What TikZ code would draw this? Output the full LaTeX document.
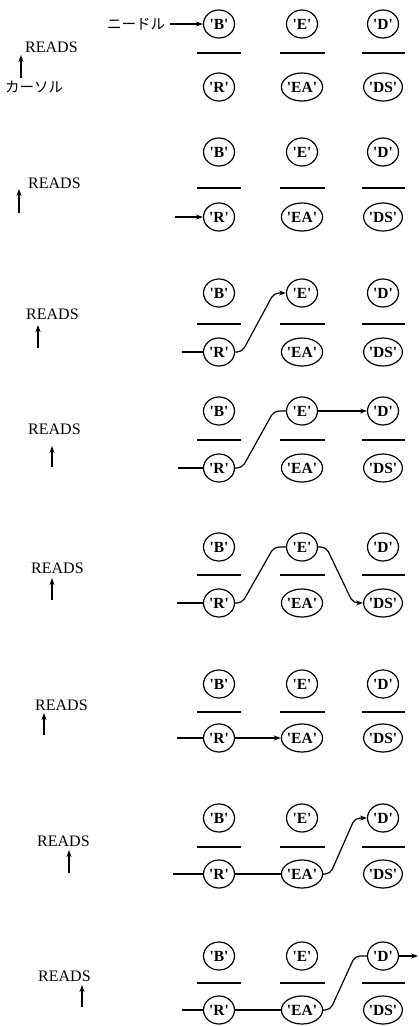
\documentclass[tikz,border=0pt]{standalone}
\usepackage{fontspec}
\setmainfont{Liberation Serif}
\newfontfamily\jpfont{Noto Sans CJK JP}
\usetikzlibrary{arrows.meta,shapes.geometric}
\newcommand\qq[1]{\textquotesingle#1\textquotesingle}
\tikzset{
  lab/.style={draw, ellipse, line width=1.2pt, inner sep=-0.5pt, minimum width=31pt, minimum height=28pt,
    font=\fontsize{15.5}{15.5}\selectfont\bfseries},
  bar/.style={line width=1.4pt},
  arr/.style={line width=1.2pt, -{Stealth[length=7pt,width=5pt]}},
  con/.style={line width=1.2pt, rounded corners=5pt},
  rd/.style={font=\fontsize{16}{16}\selectfont, inner sep=0pt, anchor=west},
  jp/.style={font=\jpfont\fontsize{14.5}{14.5}\selectfont, inner sep=0pt, anchor=west},
}
\newcommand\mkpanel[4]{%
  \node[lab] (B#1) at (219,#2) {\qq{B}};
  \node[lab] (E#1) at (302,#2) {\qq{E}};
  \node[lab] (D#1) at (383,#2) {\qq{D}};
  \draw[bar] (197,#3) -- (241,#3);
  \draw[bar] (280,#3) -- (325,#3);
  \draw[bar] (362,#3) -- (405,#3);
  \node[lab] (R#1) at (219,#4) {\qq{R}};
  \node[lab] (EA#1) at (302,#4) {\qq{EA}};
  \node[lab] (DS#1) at (383,#4) {\qq{DS}};
}
\begin{document}
\begin{tikzpicture}[x=1pt,y=-1pt]
\useasboundingbox (0,0) rectangle (419,1026);
% panel 1
\mkpanel{1}{24}{53}{87}
\node[rd] (rd1) at (25,47) {READS};
\node[jp] (kaso) at (5,87) {カーソル};
\node[jp] (nd) at (107,24) {ニードル};
\coordinate (ct1) at (21,78); \coordinate (ch1) at (21,55);
\draw[arr] (ct1) -- (ch1);
\draw[arr, shorten <=5pt] (nd) -- (B1);
% panel 2
\mkpanel{2}{152}{188}{217}
\node[rd] (rd2) at (28,183) {READS};
\coordinate (ct2) at (19,213); \coordinate (ch2) at (19,189);
\draw[arr] (ct2) -- (ch2);
\coordinate (s2) at (175,217);
\draw[arr] (s2) -- (R2.west);
% panel 3
\mkpanel{3}{293}{324}{352}
\node[rd] (rd3) at (26,314) {READS};
\coordinate (ct3) at (38,348); \coordinate (ch3) at (38,325);
\draw[arr] (ct3) -- (ch3);
\coordinate (s3) at (182,352);
\draw[con] (s3) -- (R3.west);
\draw[con,arr] (R3.east) -- ([xshift=7pt]R3.east) -- ([xshift=-12pt]E3.west) -- (E3.west);
% panel 4
\mkpanel{4}{411}{440}{468}
\node[rd] (rd4) at (28,429) {READS};
\coordinate (ct4) at (52,467); \coordinate (ch4) at (52,446);
\draw[arr] (ct4) -- (ch4);
\coordinate (s4) at (178,468);
\draw[con] (s4) -- (R4.west);
\draw[con] (R4.east) -- ([xshift=7pt]R4.east) -- ([xshift=-12pt]E4.west) -- (E4.west);
\draw[arr] (E4) -- (D4);
% panel 5
\mkpanel{5}{547}{575}{603}
\node[rd] (rd5) at (31,568) {READS};
\coordinate (ct5) at (52,600); \coordinate (ch5) at (52,578);
\draw[arr] (ct5) -- (ch5);
\coordinate (s5) at (177,603);
\draw[con] (s5) -- (R5.west);
\draw[con] (R5.east) -- ([xshift=7pt]R5.east) -- ([xshift=-12pt]E5.west) -- (E5.west);
\draw[con,arr] (E5.east) -- ([xshift=8pt]E5.east) -- ([xshift=-10pt]DS5.west) -- (DS5.west);
% panel 6
\mkpanel{6}{684}{712}{738}
\node[rd] (rd6) at (35,705) {READS};
\coordinate (ct6) at (44,735); \coordinate (ch6) at (44,713);
\draw[arr] (ct6) -- (ch6);
\coordinate (s6) at (177,738);
\draw[con] (s6) -- (R6.west);
\draw[arr] (R6) -- (EA6);
% panel 7
\mkpanel{7}{818}{847}{874}
\node[rd] (rd7) at (37,841) {READS};
\coordinate (ct7) at (69,873); \coordinate (ch7) at (69,850);
\draw[arr] (ct7) -- (ch7);
\coordinate (s7) at (173,874);
\draw[con] (s7) -- (R7.west);
\draw[con] (R7) -- (EA7);
\draw[con,arr] (EA7.east) -- ([xshift=7pt]EA7.east) -- ([xshift=-12pt]D7.west) -- (D7.west);
% panel 8
\mkpanel{8}{956}{983}{1010}
\node[rd] (rd8) at (38,976) {READS};
\coordinate (ct8) at (82,1007); \coordinate (ch8) at (82,985);
\draw[arr] (ct8) -- (ch8);
\coordinate (s8) at (182,1010);
\draw[con] (s8) -- (R8.west);
\draw[con] (R8) -- (EA8);
\draw[con] (EA8.east) -- ([xshift=7pt]EA8.east) -- ([xshift=-12pt]D8.west) -- (D8.west);
\coordinate (o8) at (418,956);
\draw[arr] (D8.east) -- (o8);
\end{tikzpicture}
\end{document}
